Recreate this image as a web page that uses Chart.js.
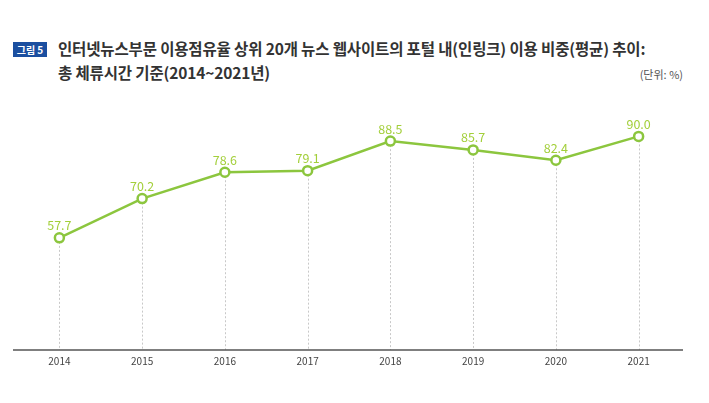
<!DOCTYPE html>
<html>
<head>
<meta charset="utf-8">
<script src="https://cdn.jsdelivr.net/npm/chart.js@4"></script>
<style>
    body { margin: 0; background: #fff; font-family: "Noto Sans CJK KR", sans-serif; }
    .wrap { position: relative; width: 709px; height: 403px; overflow: hidden; }
    .badge { position: absolute; left: 13px; top: 42px; width: 34px; height: 15px; background: #1b4fa0; color: #fff; font-size: 10px; font-weight: bold; line-height: 15px; text-align: center; }
    .title { position: absolute; left: 58px; top: 36px; font-size: 15.5px; font-weight: bold; color: #333; line-height: 24px; letter-spacing: -0.15px; }
    .unit { position: absolute; right: 26px; top: 66px; font-size: 11px; color: #555; }
    canvas { position: absolute; left: 0; top: 0; }
</style>
</head>
<body>
<div class="wrap">
    <div class="badge">그림 5</div>
    <div class="title">인터넷뉴스부문 이용점유율 상위 20개 뉴스 웹사이트의 포털 내(인링크) 이용 비중(평균) 추이:<br>총 체류시간 기준(2014~2021년)</div>
    <div class="unit">(단위: %)</div>
    <canvas id="chart" width="709" height="403"></canvas>
</div>
<script>
// Chart data
const years = ['2014', '2015', '2016', '2017', '2018', '2019', '2020', '2021'];
const shares = [57.7, 70.2, 78.6, 79.1, 88.5, 85.7, 82.4, 90.0];

const green = '#8cc63e';

// Dotted drop lines, baseline and value labels
const decorPlugin = {
    id: 'decor',
    beforeDatasetsDraw(chart) {
        const ctx = chart.ctx;
        const meta = chart.getDatasetMeta(0);
        const bottom = chart.chartArea.bottom;
        ctx.save();
        ctx.strokeStyle = '#c8c8c8';
        ctx.lineWidth = 1;
        ctx.setLineDash([2, 2]);
        meta.data.forEach(pt => {
            const x = Math.round(pt.x) + 0.5;
            ctx.beginPath();
            ctx.moveTo(x, pt.y);
            ctx.lineTo(x, bottom);
            ctx.stroke();
        });
        // baseline runs a little past the plot area on both sides
        ctx.setLineDash([]);
        ctx.strokeStyle = '#555';
        ctx.lineWidth = 1.5;
        ctx.beginPath();
        ctx.moveTo(13, bottom);
        ctx.lineTo(683, bottom);
        ctx.stroke();
        ctx.restore();
    },
    afterDatasetsDraw(chart) {
        const ctx = chart.ctx;
        const meta = chart.getDatasetMeta(0);
        ctx.save();
        ctx.fillStyle = '#a3cf3a';
        ctx.font = '12.5px "Noto Sans CJK KR", sans-serif';
        ctx.textAlign = 'center';
        ctx.textBaseline = 'bottom';
        meta.data.forEach((pt, i) => {
            ctx.fillText(shares[i].toFixed(1), pt.x, pt.y - 6);
        });
        ctx.restore();
    }
};

new Chart(document.getElementById('chart').getContext('2d'), {
    type: 'line',
    data: {
        labels: years,
        datasets: [{
            data: shares,
            borderColor: green,
            borderWidth: 2.5,
            pointRadius: 4.5,
            pointBorderWidth: 2.5,
            pointBackgroundColor: '#fff',
            pointBorderColor: green,
            tension: 0
        }]
    },
    options: {
        responsive: false,
        animation: false,
        layout: { padding: { top: 105, left: 18, right: 29, bottom: 31 } },
        plugins: { legend: { display: false }, tooltip: { enabled: false } },
        scales: {
            x: {
                offset: true,
                grid: { display: false, drawTicks: false },
                border: { display: false },
                ticks: {
                    color: '#444',
                    padding: 5,
                    font: { family: '"Noto Sans CJK KR", sans-serif', size: 10 }
                }
            },
            y: {
                display: false,
                min: 22,
                max: 100
            }
        }
    },
    plugins: [decorPlugin]
});
</script>
</body>
</html>
